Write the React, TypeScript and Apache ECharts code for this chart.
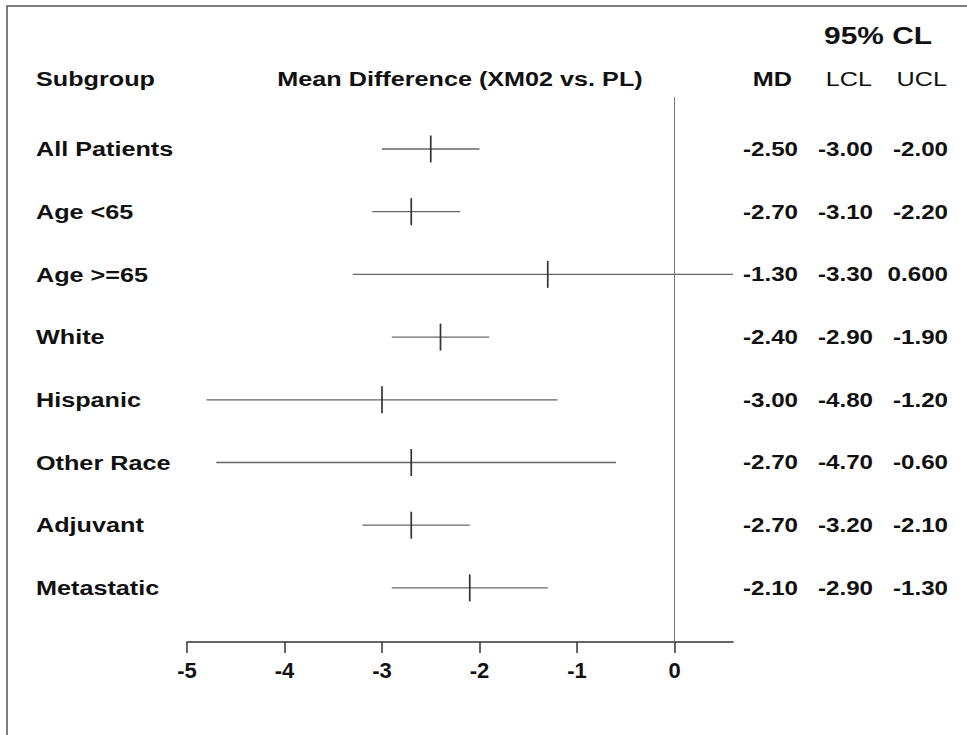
import React, { useEffect, useRef } from "react";
import * as echarts from "echarts";

// ---- data ----
const subgroups = ["All Patients", "Age <65", "Age >=65", "White", "Hispanic", "Other Race", "Adjuvant", "Metastatic"];
const md = [-2.5, -2.7, -1.3, -2.4, -3.0, -2.7, -2.7, -2.1];
const lcl = [-3.0, -3.1, -3.3, -2.9, -4.8, -4.7, -3.2, -2.9];
const ucl = [-2.0, -2.2, 0.6, -1.9, -1.2, -0.6, -2.1, -1.3];
const xTicks = [-5, -4, -3, -2, -1, 0];
const headers = { subgroup: "Subgroup", title: "Mean Difference (XM02 vs. PL)", cl: "95% CL", md: "MD", lcl: "LCL", ucl: "UCL" };

// SAS-style number format as printed in the table (positive fractions shown with 3 decimals)
const fmt = (v: number) => (v > 0 && v < 1 ? v.toFixed(3) : v.toFixed(2));

const FONT = '"Liberation Sans", Arial, Helvetica, sans-serif';
const INK = "#111";

export default function App() {
  const ref = useRef<HTMLDivElement>(null);
  useEffect(() => {
    document.body.style.margin = "0";
    const chart = echarts.init(ref.current!, null, { renderer: "svg" });
    const data = subgroups.map((_, i) => [i, md[i], lcl[i], ucl[i]]);
    const txt = (x: number, y: number, text: string, align: string, bold: boolean, size = 21, sx = 1.2) => ({
      type: "text",
      x,
      y,
      scaleX: sx,
      style: {
        text,
        fill: INK,
        fontFamily: FONT,
        fontSize: size,
        fontWeight: bold ? "bold" : "normal",
        align,
        verticalAlign: "middle",
      },
    });
    chart.setOption({
      animation: false,
      backgroundColor: "#fff",
      grid: { left: 187, right: 234, top: 97, bottom: 93 },
      xAxis: {
        type: "value",
        min: -5,
        max: 0.6,
        interval: 1,
        splitLine: { show: false },
        axisLine: { show: true, onZero: false, lineStyle: { color: "#333", width: 1.5 } },
        axisTick: { show: true, length: 11, customValues: xTicks, lineStyle: { color: "#333", width: 1.5 } },
        axisLabel: {
          customValues: xTicks,
          margin: 17,
          color: INK,
          fontFamily: FONT,
          fontSize: 22,
          fontWeight: "bold",
        },
      },
      yAxis: {
        type: "value",
        inverse: true,
        min: -0.829,
        max: 7.863,
        show: false,
      },
      graphic: [
        {
          type: "polyline",
          shape: { points: [[7, 735], [7, 6], [967, 6]] },
          style: { stroke: "#555", fill: null, lineWidth: 1.5 },
          silent: true,
        },
        txt(36, 79, headers.subgroup, "left", true),
        txt(460, 79, headers.title, "center", true),
        txt(932, 36, headers.cl, "right", true, 23, 1.3),
        txt(792, 79, headers.md, "right", true),
        txt(872, 79, headers.lcl, "right", false),
        txt(947, 79, headers.ucl, "right", false),
      ],
      series: [
        {
          type: "custom",
          clip: false,
          encode: { x: [1, 2, 3], y: 0 },
          data,
          renderItem: (params: any, api: any) => {
            const idx = api.value(0);
            const m = api.value(1);
            const lo = api.value(2);
            const hi = api.value(3);
            const pLo = api.coord([lo, idx]);
            const pHi = api.coord([hi, idx]);
            const pM = api.coord([m, idx]);
            const y = pM[1];
            return {
              type: "group",
              children: [
                {
                  type: "line",
                  shape: { x1: pLo[0], y1: y, x2: pHi[0], y2: y },
                  style: { stroke: "#666", lineWidth: 1.3 },
                },
                {
                  type: "line",
                  shape: { x1: pM[0], y1: y - 13.5, x2: pM[0], y2: y + 13.5 },
                  style: { stroke: "#333", lineWidth: 1.7 },
                },
                txt(36, y, subgroups[idx], "left", true),
                txt(798, y, fmt(m), "right", true, 21, 1.15),
                txt(873, y, fmt(lo), "right", true, 21, 1.15),
                txt(948, y, fmt(hi), "right", true, 21, 1.15),
              ],
            };
          },
          markLine: {
            silent: true,
            symbol: "none",
            label: { show: false },
            lineStyle: { color: "#777", width: 1, type: "solid" },
            data: [{ xAxis: 0 }],
          },
        },
      ],
    });
    return () => chart.dispose();
  }, []);
  return <div ref={ref} style={{ width: 967, height: 735 }} />;
}
